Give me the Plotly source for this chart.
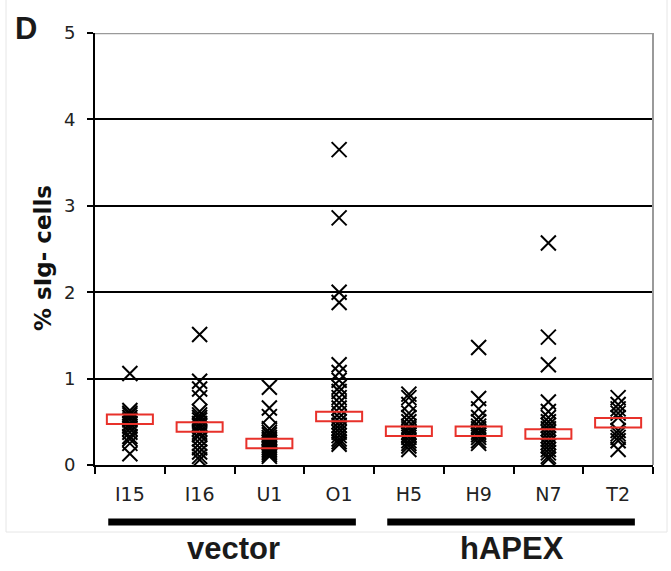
import plotly.graph_objects as go

categories = ["I15", "I16", "U1", "O1", "H5", "H9", "N7", "T2"]

values = {
    "I15": [1.06, 0.63, 0.6, 0.58, 0.55, 0.52, 0.48, 0.45, 0.42, 0.38, 0.33, 0.3, 0.25, 0.13],
    "I16": [1.51, 0.97, 0.88, 0.78, 0.62, 0.58, 0.55, 0.52, 0.48, 0.45, 0.42, 0.38, 0.35, 0.3,
            0.25, 0.2, 0.15, 0.1, 0.06],
    "U1": [0.9, 0.66, 0.56, 0.42, 0.38, 0.35, 0.32, 0.3, 0.28, 0.26, 0.24, 0.22, 0.2, 0.18,
           0.16, 0.14, 0.12, 0.1],
    "O1": [3.65, 2.86, 2.0, 1.88, 1.16, 1.07, 0.98, 0.9, 0.85, 0.78, 0.72, 0.66, 0.6, 0.55,
           0.5, 0.46, 0.42, 0.38, 0.34, 0.3, 0.27, 0.24],
    "H5": [0.82, 0.78, 0.7, 0.6, 0.55, 0.5, 0.45, 0.42, 0.38, 0.35, 0.32, 0.28, 0.25, 0.22, 0.18],
    "H9": [1.36, 0.77, 0.65, 0.55, 0.5, 0.45, 0.42, 0.38, 0.35, 0.32, 0.28, 0.25],
    "N7": [2.57, 1.48, 1.16, 0.73, 0.62, 0.55, 0.5, 0.46, 0.42, 0.38, 0.34, 0.3, 0.26, 0.22,
           0.18, 0.14, 0.1, 0.07],
    "T2": [0.78, 0.7, 0.65, 0.6, 0.55, 0.4, 0.36, 0.32, 0.28, 0.18],
}

means = [0.53, 0.44, 0.25, 0.56, 0.39, 0.39, 0.36, 0.49]

groups = ["vector", "hAPEX"]
group_members = [["I15", "I16", "U1", "O1"], ["H5", "H9", "N7", "T2"]]

y_ticks = [0, 1, 2, 3, 4, 5]

W, H = 671, 571
ML, MR, MT, MB = 95, 18, 33, 106
PW, PH = W - ML - MR, H - MT - MB


def px_x(p):
    return (p - ML) / PW


def px_y(p):
    return (H - MB - p) / PH


xs, ys = [], []
for c in categories:
    xs += [c] * len(values[c])
    ys += values[c]

fig = go.Figure()
fig.add_trace(go.Scatter(
    x=xs, y=ys, mode="markers",
    marker=dict(symbol="x-thin", size=15, color="black",
                line=dict(color="black", width=2)),
    showlegend=False, hoverinfo="skip"))

rect_h = 0.11
fig.add_trace(go.Bar(
    x=categories, y=[rect_h] * len(means), base=[m - rect_h / 2 for m in means],
    width=0.66, marker=dict(color="rgba(0,0,0,0)", line=dict(color="#e8312a", width=2)),
    xaxis="x2", showlegend=False, hoverinfo="skip"))

shapes = []
# top and right borders (grey)
shapes.append(dict(type="line", xref="paper", yref="y", x0=0, x1=1, y0=5, y1=5,
                   line=dict(color="#9a9a9a", width=2.5), layer="above"))
shapes.append(dict(type="line", xref="paper", yref="paper", x0=1, x1=1, y0=0, y1=1,
                   line=dict(color="#9a9a9a", width=2), layer="above"))
# faint panel frame
fr = "#e6e6e6"
shapes.append(dict(type="line", xref="paper", yref="paper", x0=px_x(6), x1=px_x(6),
                   y0=px_y(0), y1=px_y(532), line=dict(color=fr, width=1)))
shapes.append(dict(type="line", xref="paper", yref="paper", x0=px_x(667), x1=px_x(667),
                   y0=px_y(0), y1=px_y(532), line=dict(color=fr, width=1)))
shapes.append(dict(type="line", xref="paper", yref="paper", x0=px_x(6), x1=px_x(667),
                   y0=px_y(532), y1=px_y(532), line=dict(color=fr, width=1)))

annotations = []
for g, mem in zip(groups, group_members):
    i0 = categories.index(mem[0])
    i1 = categories.index(mem[-1])
    shapes.append(dict(type="line", xref="x", yref="paper",
                       x0=i0 - 0.31, x1=i1 + 0.24, y0=px_y(522), y1=px_y(522),
                       line=dict(color="black", width=7)))
    annotations.append(dict(text="<b>%s</b>" % g, xref="x", yref="paper",
                            x=(i0 + i1) / 2 - 0.02, y=px_y(548), showarrow=False,
                            xanchor="center", yanchor="middle",
                            font=dict(family="Liberation Sans, Arial", size=31, color="#1a1a1a")))

annotations.append(dict(text="<b>% sIg- cells</b>", textangle=-90, xref="paper", yref="paper",
                        x=px_x(43), y=px_y(258), showarrow=False, xanchor="center",
                        yanchor="middle",
                        font=dict(family="DejaVu Sans", size=23, color="#111")))
annotations.append(dict(text="<b>D</b>", xref="paper", yref="paper", x=px_x(26), y=px_y(29),
                        showarrow=False, xanchor="center", yanchor="middle",
                        font=dict(family="Liberation Sans, Arial", size=31, color="#1a1a1a")))

fig.update_layout(
    width=W, height=H,
    margin=dict(l=ML, r=MR, t=MT, b=MB, pad=0),
    paper_bgcolor="white", plot_bgcolor="white",
    barmode="overlay",
    xaxis=dict(type="category", categoryorder="array", categoryarray=categories,
               range=[-0.5, len(categories) - 0.5], tickson="boundaries",
               ticks="outside", ticklen=7, tickwidth=1.5, tickcolor="black",
               showline=True, linecolor="black", linewidth=2, showgrid=False,
               tickfont=dict(family="DejaVu Sans", size=19, color="#222"),
               ticklabelstandoff=11, fixedrange=True),
    xaxis2=dict(type="category", categoryorder="array", categoryarray=categories,
                range=[-0.5, len(categories) - 0.5], overlaying="x", visible=False),
    yaxis=dict(range=[0, 5], tickvals=y_ticks, ticks="outside", ticklen=6, tickwidth=1.5,
               tickcolor="black", showline=True, linecolor="black", linewidth=2,
               showgrid=True, gridcolor="black", gridwidth=1.5, zeroline=False,
               tickfont=dict(family="DejaVu Sans", size=18, color="#222"),
               ticklabelstandoff=8),
    shapes=shapes, annotations=annotations,
)

fig.write_html("out.html")
